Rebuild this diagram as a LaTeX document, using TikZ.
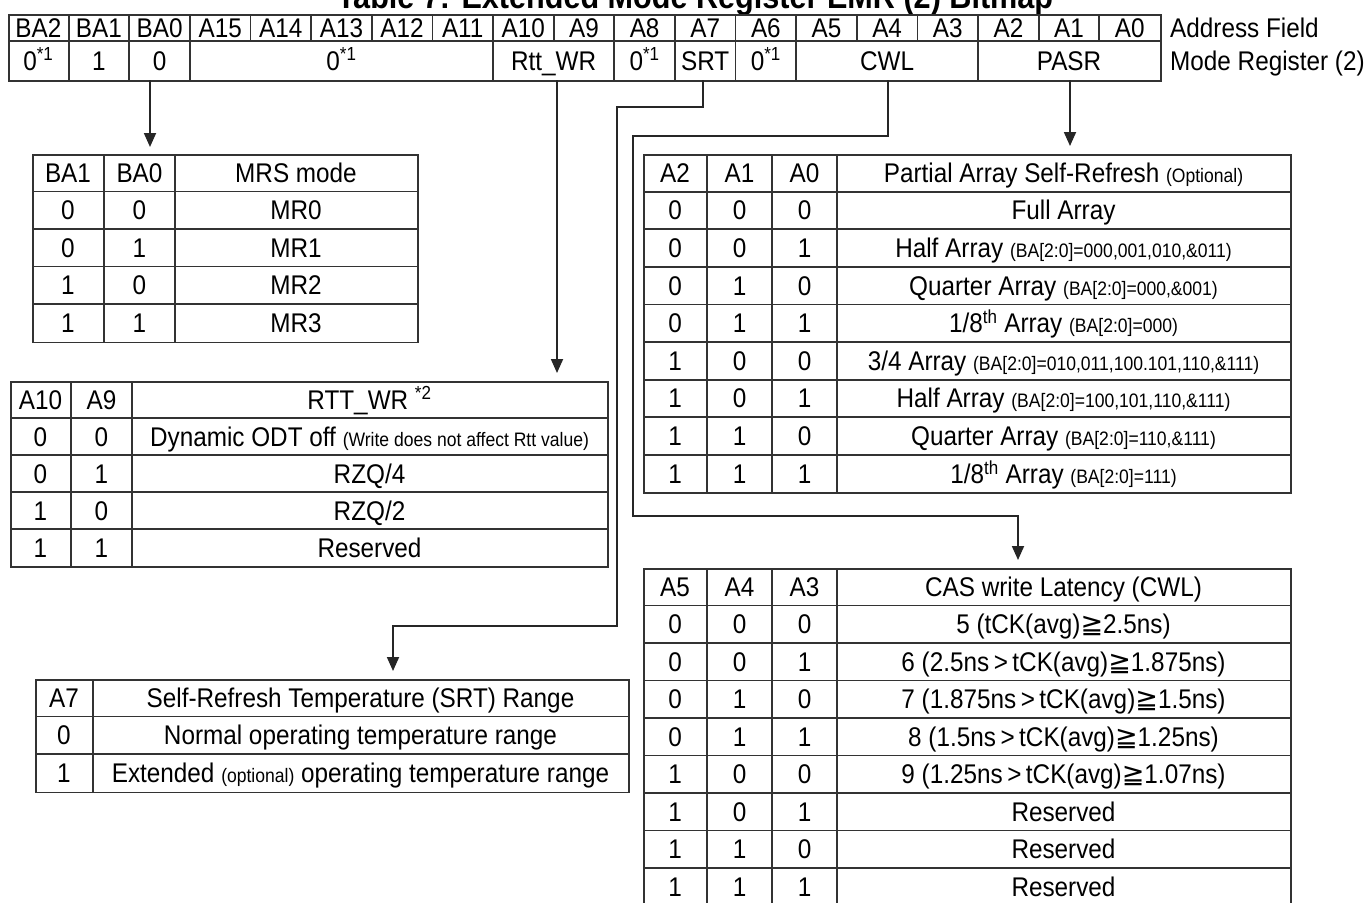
\documentclass[tikz,border=0pt]{standalone}
\usepackage{fontspec}
\setmainfont{Liberation Sans}[FakeStretch=0.9]
\newfontfamily\symf{DejaVu Sans}
\usetikzlibrary{arrows.meta,calc}
\newcommand\tinyp{\fontsize{19.5}{21}\selectfont}
\begin{document}
\begin{tikzpicture}[x=1pt,y=-1pt,
  grid/.style={draw=black!80, line width=1.8pt},
  conn/.style={draw=black!85, line width=1.8pt},
  arr/.style={conn, -{Triangle[length=14pt,width=12pt]}},
  txt/.style={inner sep=0pt, text height=19pt, text depth=0pt, font=\fontsize{27}{29}\selectfont},
  box/.style={draw=black!80, line width=1.8pt, inner sep=0pt, anchor=north west}
]
\useasboundingbox (0,0) rectangle (1370,902);
\fill[white] (0,0) rectangle (1370,902);
\clip (0,0) rectangle (1370,902);

% title
\node[anchor=base, inner sep=0pt, font=\bfseries\fontsize{34}{36}\selectfont] (title) at (695,8.5) {Table 7: Extended Mode Register EMR (2) Bitmap};

% register table
\def\cw{60.63}
\node[box, minimum width=1152pt, minimum height=66pt] (reg) at (8,14) {};
\draw[grid] (8,41) -- (1160,41);
\foreach \i in {1,...,18} \draw[grid] ({8+\i*\cw},14) -- ({8+\i*\cw},41);
\foreach \i in {1,2,3,8,10,11,12,13,16} \draw[grid] ({8+\i*\cw},41) -- ({8+\i*\cw},80);
\foreach \l [count=\i from 0] in {BA2,BA1,BA0,A15,A14,A13,A12,A11,A10,A9,A8,A7,A6,A5,A4,A3,A2,A1,A0}
  \node[txt] (h-\l) at ({8+(\i+0.5)*\cw},27.5) {\l};
\node[txt] (r-ba2) at ({8+0.5*\cw},60.5) {0\textsuperscript{*1}};
\node[txt] (r-ba1) at ({8+1.5*\cw},60.5) {1};
\node[txt] (r-ba0) at ({8+2.5*\cw},60.5) {0};
\node[txt] (r-z) at ({8+5.5*\cw},60.5) {0\textsuperscript{*1}};
\node[txt] (r-rtt) at ({8+9*\cw},60.5) {Rtt\_WR};
\node[txt] (r-a8) at ({8+10.5*\cw},60.5) {0\textsuperscript{*1}};
\node[txt] (r-srt) at ({8+11.5*\cw},60.5) {SRT};
\node[txt] (r-a6) at ({8+12.5*\cw},60.5) {0\textsuperscript{*1}};
\node[txt] (r-cwl) at ({8+14.5*\cw},60.5) {CWL};
\node[txt] (r-pasr) at ({8+17.5*\cw},60.5) {PASR};
\node[txt, anchor=west] (lab1) at (1170,27.5) {Address Field};
\node[txt, anchor=west] (lab2) at (1170,60.5) {Mode Register (2)};

% MRS table
\node[box, minimum width=385pt, minimum height=187.5pt] (mrs) at (32,154) {};
\foreach \x in {104,175} \draw[grid] (\x,154) -- (\x,341.5);
\foreach \k in {1,...,4} \draw[grid] (32,{154+\k*37.5}) -- (417,{154+\k*37.5});
\node[txt] (mrs-h1) at (68,172.75) {BA1};
\node[txt] (mrs-h2) at (139.5,172.75) {BA0};
\node[txt] (mrs-h3) at (296,172.75) {MRS mode};
\foreach \a/\b/\t [count=\k] in {0/0/MR0,0/1/MR1,1/0/MR2,1/1/MR3} {
  \node[txt] (mrs-a\k) at (68,{154+(\k+0.5)*37.5}) {\a};
  \node[txt] (mrs-b\k) at (139.5,{154+(\k+0.5)*37.5}) {\b};
  \node[txt] (mrs-t\k) at (296,{154+(\k+0.5)*37.5}) {\t};
}

% RTT table
\node[box, minimum width=597pt, minimum height=185pt] (rtt) at (10,381) {};
\foreach \x in {71,132} \draw[grid] (\x,381) -- (\x,566);
\foreach \k in {1,...,4} \draw[grid] (10,{381+\k*37}) -- (607,{381+\k*37});
\node[txt] (rtt-h1) at (40.5,399.5) {A10};
\node[txt] (rtt-h2) at (101.5,399.5) {A9};
\node[txt] (rtt-h3) at (369.5,399.5) {RTT\_WR \textsuperscript{*2}};
\foreach \a/\b [count=\k] in {0/0,0/1,1/0,1/1} {
  \node[txt] (rtt-a\k) at (40.5,{381+(\k+0.5)*37}) {\a};
  \node[txt] (rtt-b\k) at (101.5,{381+(\k+0.5)*37}) {\b};
}
\node[txt] (rtt-t1) at (369.5,436.5) {Dynamic ODT off {\tinyp (Write does not affect Rtt value)}};
\node[txt] (rtt-t2) at (369.5,473.5) {RZQ/4};
\node[txt] (rtt-t3) at (369.5,510.5) {RZQ/2};
\node[txt] (rtt-t4) at (369.5,547.5) {Reserved};

% SRT table
\node[box, minimum width=593pt, minimum height=112.5pt] (srt) at (35,679) {};
\draw[grid] (93,679) -- (93,791.5);
\foreach \k in {1,2} \draw[grid] (35,{679+\k*37.5}) -- (628,{679+\k*37.5});
\node[txt] (srt-h1) at (64,697.75) {A7};
\node[txt] (srt-h2) at (360.5,697.75) {Self-Refresh Temperature (SRT) Range};
\node[txt] (srt-a1) at (64,735.25) {0};
\node[txt] (srt-t1) at (360.5,735.25) {Normal operating temperature range};
\node[txt] (srt-a2) at (64,772.75) {1};
\node[txt] (srt-t2) at (360.5,772.75) {Extended {\tinyp (optional)} operating temperature range};

% PASR table
\node[box, minimum width=647pt, minimum height=338.4pt] (pasr) at (643,154) {};
\foreach \x in {707,772,837} \draw[grid] (\x,154) -- (\x,492.4);
\foreach \k in {1,...,8} \draw[grid] (643,{154+\k*37.6}) -- (1290,{154+\k*37.6});
\node[txt] (pasr-h1) at (675,172.8) {A2};
\node[txt] (pasr-h2) at (739.5,172.8) {A1};
\node[txt] (pasr-h3) at (804.5,172.8) {A0};
\node[txt] (pasr-h4) at (1063.5,172.8) {Partial Array Self-Refresh {\tinyp (Optional)}};
\foreach \a/\b/\c [count=\k] in {0/0/0,0/0/1,0/1/0,0/1/1,1/0/0,1/0/1,1/1/0,1/1/1} {
  \node[txt] (pasr-a\k) at (675,{154+(\k+0.5)*37.6}) {\a};
  \node[txt] (pasr-b\k) at (739.5,{154+(\k+0.5)*37.6}) {\b};
  \node[txt] (pasr-c\k) at (804.5,{154+(\k+0.5)*37.6}) {\c};
}
\node[txt] (pasr-t1) at (1063.5,210.4) {Full Array};
\node[txt] (pasr-t2) at (1063.5,248) {Half Array {\tinyp (BA[2:0]=000,001,010,\&011)}};
\node[txt] (pasr-t3) at (1063.5,285.6) {Quarter Array {\tinyp (BA[2:0]=000,\&001)}};
\node[txt] (pasr-t4) at (1063.5,323.2) {1/8\textsuperscript{th} Array {\tinyp (BA[2:0]=000)}};
\node[txt] (pasr-t5) at (1063.5,360.8) {3/4 Array {\tinyp (BA[2:0]=010,011,100.101,110,\&111)}};
\node[txt] (pasr-t6) at (1063.5,398.4) {Half Array {\tinyp (BA[2:0]=100,101,110,\&111)}};
\node[txt] (pasr-t7) at (1063.5,436) {Quarter Array {\tinyp (BA[2:0]=110,\&111)}};
\node[txt] (pasr-t8) at (1063.5,473.6) {1/8\textsuperscript{th} Array {\tinyp (BA[2:0]=111)}};

% CWL table
\node[box, minimum width=647pt, minimum height=337.5pt] (cwl) at (643,568) {};
\foreach \x in {707,772,837} \draw[grid] (\x,568) -- (\x,905.5);
\foreach \k in {1,...,8} \draw[grid] (643,{568+\k*37.5}) -- (1290,{568+\k*37.5});
\node[txt] (cwl-h1) at (675,586.75) {A5};
\node[txt] (cwl-h2) at (739.5,586.75) {A4};
\node[txt] (cwl-h3) at (804.5,586.75) {A3};
\node[txt] (cwl-h4) at (1063.5,586.75) {CAS write Latency (CWL)};
\foreach \a/\b/\c [count=\k] in {0/0/0,0/0/1,0/1/0,0/1/1,1/0/0,1/0/1,1/1/0,1/1/1} {
  \node[txt] (cwl-a\k) at (675,{568+(\k+0.5)*37.5}) {\a};
  \node[txt] (cwl-b\k) at (739.5,{568+(\k+0.5)*37.5}) {\b};
  \node[txt] (cwl-c\k) at (804.5,{568+(\k+0.5)*37.5}) {\c};
}
\node[txt] (cwl-t1) at (1063.5,624.25) {5 (tCK(avg){\symf ≧}2.5ns)};
\node[txt] (cwl-t2) at (1063.5,661.75) {6 (2.5ns\,>\,tCK(avg){\symf ≧}1.875ns)};
\node[txt] (cwl-t3) at (1063.5,699.25) {7 (1.875ns\,>\,tCK(avg){\symf ≧}1.5ns)};
\node[txt] (cwl-t4) at (1063.5,736.75) {8 (1.5ns\,>\,tCK(avg){\symf ≧}1.25ns)};
\node[txt] (cwl-t5) at (1063.5,774.25) {9 (1.25ns\,>\,tCK(avg){\symf ≧}1.07ns)};
\node[txt] (cwl-t6) at (1063.5,811.75) {Reserved};
\node[txt] (cwl-t7) at (1063.5,849.25) {Reserved};
\node[txt] (cwl-t8) at (1063.5,886.75) {Reserved};

% connectors
\coordinate (p1) at (150,80);
\coordinate (p2) at (557,80);
\coordinate (p3) at (703,80);
\coordinate (p4) at (888,80);
\coordinate (p5) at (1070,80);
\coordinate (s1) at (703,107);
\coordinate (s2) at (617,107);
\coordinate (s3) at (617,626);
\coordinate (s4) at (393,626);
\coordinate (c1) at (888,136);
\coordinate (c2) at (633,136);
\coordinate (c3) at (633,516);
\coordinate (c4) at (1018,516);
\draw[arr] (p1) -- ($(p1 |- mrs.north)+(0,-7)$);
\draw[arr] (p2) -- ($(p2 |- rtt.north)+(0,-8)$);
\draw[arr] (p3) -- (s1) -- (s2) -- (s3) -- (s4) -- ($(s4 |- srt.north)+(0,-8)$);
\draw[arr] (p4) -- (c1) -- (c2) -- (c3) -- (c4) -- ($(c4 |- cwl.north)+(0,-8)$);
\draw[arr] (p5) -- ($(p5 |- pasr.north)+(0,-8)$);
\end{tikzpicture}
\end{document}
